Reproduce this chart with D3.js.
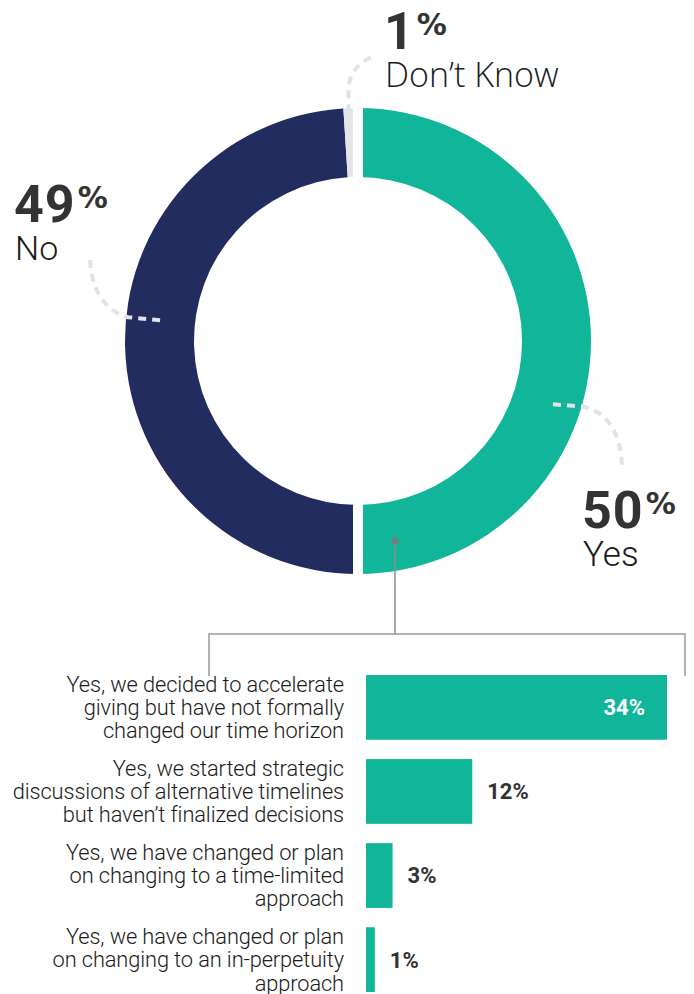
<!DOCTYPE html>
<html>
<head>
<meta charset="utf-8">
<script src="https://cdn.jsdelivr.net/npm/d3@7"></script>
<style>
  html, body { margin: 0; padding: 0; background: #ffffff; }
  svg { display: block; }
</style>
</head>
<body>
<svg id="chart" width="694" height="994"></svg>
<script>
// Overall answer split (donut)
const answerKeys   = ["Yes", "No", "Don’t Know"];
const answerValues = [50, 49, 1];
const answerColors = ["#10b59a", "#222c5f", "#e4e5e8"];

// Breakdown of the "Yes" answers (bars)
const detailLabels = [
  ["Yes, we decided to accelerate", "giving but have not formally", "changed our time horizon"],
  ["Yes, we started strategic", "discussions of alternative timelines", "but haven’t finalized decisions"],
  ["Yes, we have changed or plan", "on changing to a time-limited", "approach"],
  ["Yes, we have changed or plan", "on changing to an in-perpetuity", "approach"]
];
const detailValues = [34, 12, 3, 1];

const svg = d3.select("#chart");

// ---------- Donut ----------
const cx = 358, cy = 341, outerR = 233, innerR = 164;
const answers = answerKeys.map((k, i) => ({ key: k, value: answerValues[i], color: answerColors[i] }));

const pie = d3.pie().sort(null).value(d => d.value);
const arc = d3.arc().innerRadius(innerR).outerRadius(outerR);
const arcs = pie(answers);

const donut = svg.append("g").attr("transform", `translate(${cx},${cy})`);
donut.selectAll("path.slice")
  .data(arcs)
  .enter().append("path")
  .attr("class", "slice")
  .attr("d", arc)
  .attr("fill", d => d.data.color);

// white separator through the vertical axis (Yes vs. the rest)
donut.append("line")
  .attr("x1", 0).attr("x2", 0)
  .attr("y1", -outerR - 2).attr("y2", outerR + 2)
  .attr("stroke", "#ffffff")
  .attr("stroke-width", 10);

// ---------- Leader lines ----------
const polar = (ang, r) => [cx + r * Math.sin(ang), cy - r * Math.cos(ang)];
const leaderStyle = sel => sel
  .attr("fill", "none")
  .attr("stroke", "#e2e3e6")
  .attr("stroke-width", 4)
  .attr("stroke-dasharray", "8,6");

// Yes leader: from inside the teal slice out to the right
{
  const [x0, y0] = polar(108 * Math.PI / 180, 205);
  const p = d3.path();
  p.moveTo(x0, y0);
  p.lineTo(x0 + 28, y0 + 2);
  p.bezierCurveTo(x0 + 52, y0 + 5, x0 + 69, y0 + 28, x0 + 69, y0 + 64);
  svg.append("path").attr("d", p.toString()).call(leaderStyle);
}
// No leader: from inside the navy slice, curving up to the label
{
  const [x0, y0] = polar(276 * Math.PI / 180, 199);
  const p = d3.path();
  p.moveTo(x0, y0);
  p.lineTo(x0 - 32, y0 - 3);
  p.bezierCurveTo(x0 - 55, y0 - 9, x0 - 70, y0 - 31, x0 - 70, y0 - 63);
  svg.append("path").attr("d", p.toString()).call(leaderStyle);
}
// Don't Know leader: from the thin grey slice up towards the label
{
  const dk = arcs[2];
  const ang = (dk.startAngle + dk.endAngle) / 2 - 0.01;
  const [x0, y0] = polar(ang, outerR - 4);
  const p = d3.path();
  p.moveTo(x0, y0);
  p.lineTo(x0, y0 - 22);
  p.bezierCurveTo(x0, y0 - 40, x0 + 12, y0 - 52, x0 + 27, y0 - 56);
  svg.append("path").attr("d", p.toString()).call(leaderStyle);
}

// ---------- Big labels ----------
function bigLabel(x, yBase, value, word, wordFont, wordSize) {
  const g = svg.append("g");
  const num = g.append("text")
    .attr("x", x).attr("y", yBase)
    .attr("font-family", "Roboto, 'Liberation Sans', sans-serif")
    .attr("font-weight", 700)
    .attr("font-size", 52)
    .attr("letter-spacing", 1)
    .attr("fill", "#333333")
    .text(value);
  const w = num.node().getComputedTextLength();
  g.append("text")
    .attr("x", x + w + 2).attr("y", yBase - 14)
    .attr("font-family", "'DejaVu Sans', Roboto, sans-serif")
    .attr("font-weight", 700)
    .attr("font-size", 30)
    .attr("fill", "#333333")
    .text("%");
  g.append("text")
    .attr("x", x + 1).attr("y", yBase + 38)
    .attr("font-family", wordFont)
    .attr("font-weight", 300)
    .attr("font-size", wordSize)
    .attr("fill", "#1a1a1a")
    .text(word);
}
bigLabel(384, 49, answerValues[2], answerKeys[2], "'Open Sans', Roboto, sans-serif", 34);
bigLabel(14, 222, answerValues[1], answerKeys[1], "Roboto, sans-serif", 34);
bigLabel(582, 528, answerValues[0], answerKeys[0], "Roboto, sans-serif", 35);

// ---------- Bracket connecting Yes to its breakdown ----------
const dotX = 395, dotY = 541, bracketY = 634, bracketL = 209, bracketR = 685, bracketB = 676;
svg.append("line")
  .attr("x1", dotX).attr("x2", dotX).attr("y1", dotY).attr("y2", bracketY)
  .attr("stroke", "#8e8e8e").attr("stroke-width", 1.5);
svg.append("circle")
  .attr("cx", dotX).attr("cy", dotY).attr("r", 3.5)
  .attr("fill", "#7a7a7a");
svg.append("path")
  .attr("d", `M${bracketL},${bracketB}V${bracketY}H${bracketR}V${bracketB}`)
  .attr("fill", "none")
  .attr("stroke", "#9a9a9a").attr("stroke-width", 1.5);

// ---------- Bars ----------
const idx = detailValues.map((_, i) => i);
const y = d3.scaleBand().domain(idx).range([675, 992]).paddingInner(0.23).paddingOuter(0);
const x = d3.scaleLinear().domain([0, d3.max(detailValues)]).range([366, 667]);

svg.selectAll("rect.bar")
  .data(idx)
  .enter().append("rect")
  .attr("class", "bar")
  .attr("x", x(0))
  .attr("y", i => y(i))
  .attr("width", i => x(detailValues[i]) - x(0))
  .attr("height", y.bandwidth())
  .attr("fill", answerColors[0]);

// category labels via a left axis
const axis = svg.append("g")
  .attr("transform", `translate(344,0)`)
  .call(d3.axisLeft(y).tickSize(0).tickPadding(0).tickFormat(""));
axis.select(".domain").remove();
axis.selectAll(".tick text").remove();
axis.selectAll(".tick").each(function(i) {
  const lines = detailLabels[i];
  const t = d3.select(this).append("text")
    .attr("text-anchor", "end")
    .attr("font-family", "Roboto, sans-serif")
    .attr("font-weight", 300)
    .attr("font-size", 21.8)
    .attr("letter-spacing", -0.1)
    .attr("fill", "#1a1a1a");
  const lh = 23.3;
  lines.forEach((ln, k) => {
    t.append("tspan")
      .attr("x", 0)
      .attr("y", (k - (lines.length - 1) / 2) * lh)
      .attr("dy", "0.35em")
      .text(ln);
  });
});

// value labels
svg.selectAll("text.val")
  .data(idx)
  .enter().append("text")
  .attr("class", "val")
  .attr("x", i => detailValues[i] > 20 ? x(detailValues[i]) - 22 : x(detailValues[i]) + 15)
  .attr("y", i => y(i) + y.bandwidth() / 2)
  .attr("dy", "0.36em")
  .attr("text-anchor", i => detailValues[i] > 20 ? "end" : "start")
  .attr("font-family", "Roboto, sans-serif")
  .attr("font-weight", 700)
  .attr("font-size", 22)
  .attr("fill", i => detailValues[i] > 20 ? "#ffffff" : "#333333")
  .text(i => detailValues[i] + "%");
</script>
</body>
</html>
